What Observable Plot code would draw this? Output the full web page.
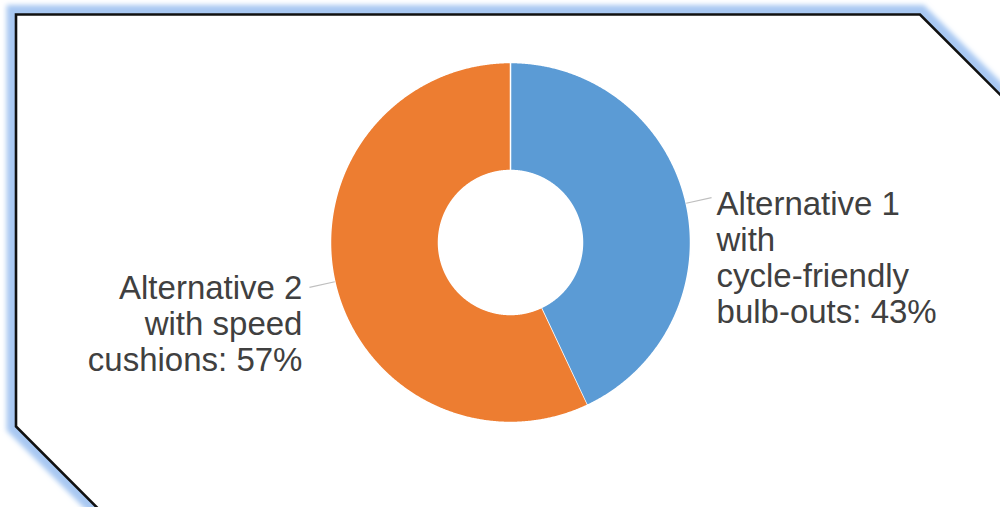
<!DOCTYPE html>
<html>
<head>
<meta charset="utf-8">
<script src="https://cdn.jsdelivr.net/npm/d3@7"></script>
<script src="https://cdn.jsdelivr.net/npm/@observablehq/plot@0.6"></script>
<style>
  html, body { margin: 0; padding: 0; background: #ffffff; }
  #wrap { position: relative; width: 1000px; height: 507px; overflow: hidden; }
  #frame { position: absolute; left: 0; top: 0; }
  #chart { position: absolute; left: 0; top: 0; }
</style>
</head>
<body>
<div id="wrap">
  <svg id="frame" width="1000" height="507">
    <defs>
      <filter id="glow" x="-10%" y="-10%" width="120%" height="120%">
        <feGaussianBlur stdDeviation="2.5"/>
      </filter>
    </defs>
    <polygon points="16,14.5 920,14.5 1110,204.5 1110,620 209.5,620 16,426.5"
      fill="none" stroke="#a8c8f2" stroke-width="19" filter="url(#glow)"/>
    <polygon points="16,14.5 920,14.5 1110,204.5 1110,620 209.5,620 16,426.5"
      fill="#ffffff" stroke="#111111" stroke-width="2.6" stroke-linejoin="miter"/>
  </svg>
  <div id="chart"></div>
</div>
<script>
// ---- data ----
const categories = [
  "Alternative 1\nwith\ncycle-friendly\nbulb-outs",
  "Alternative 2\nwith speed\ncushions"
];
const shares = [43, 57];
const colors = ["#5b9bd5", "#ed7d31"];

// ---- layout ----
const W = 1000, H = 507;
const cx = 510, cy = 242, R = 180, r0 = 72, leaderR = 206;
const labelOffsets = [ {dx: 5, dy: -8, anchor: "start"}, {dx: -7, dy: -14, anchor: "end"} ];

const total = d3.sum(shares);
const pie = d3.pie().sort(null).value(d => d)(shares);

// slice polygons (angles clockwise from 12 o'clock)
const pt = (a, rad) => ({x: cx + rad * Math.sin(a), y: cy - rad * Math.cos(a)});
const slices = [];
pie.forEach((p, i) => {
  const n = Math.max(8, Math.ceil((p.endAngle - p.startAngle) / 0.005));
  for (let k = 0; k <= n; k++) {
    const a = p.startAngle + (p.endAngle - p.startAngle) * k / n;
    slices.push({slice: i, ...pt(a, R)});
  }
  for (let k = n; k >= 0; k--) {
    const a = p.startAngle + (p.endAngle - p.startAngle) * k / n;
    slices.push({slice: i, ...pt(a, r0)});
  }
});

const labels = pie.map((p, i) => {
  const mid = (p.startAngle + p.endAngle) / 2;
  const a = pt(mid, R), b = pt(mid, leaderR);
  return {
    i, x1: a.x, y1: a.y, x2: b.x, y2: b.y,
    text: `${categories[i]}: ${Math.round(shares[i] / total * 100)}%`
  };
});

const plot = Plot.plot({
  width: W, height: H,
  margin: 0,
  x: {domain: [0, W], range: [0, W], axis: null},
  y: {domain: [0, H], range: [0, H], axis: null},
  style: {background: "transparent"},
  marks: [
    Plot.line(slices, {
      x: "x", y: "y", z: "slice",
      fill: d => colors[d.slice],
      stroke: "#ffffff", strokeWidth: 1.5, strokeLinejoin: "round"
    }),
    Plot.link(labels, {x1: "x1", y1: "y1", x2: "x2", y2: "y2", stroke: "#bfbfbf", strokeWidth: 1.2}),
    ...labels.map(l => Plot.text([l], {
      x: "x2", y: "y2", text: "text",
      textAnchor: labelOffsets[l.i].anchor,
      lineAnchor: "top",
      dx: labelOffsets[l.i].dx, dy: labelOffsets[l.i].dy,
      fontSize: 33, lineHeight: 1.09,
      fill: "#404040",
      fontFamily: "Liberation Sans, Arial, sans-serif"
    }))
  ]
});
document.getElementById("chart").appendChild(plot);
</script>
</body>
</html>
